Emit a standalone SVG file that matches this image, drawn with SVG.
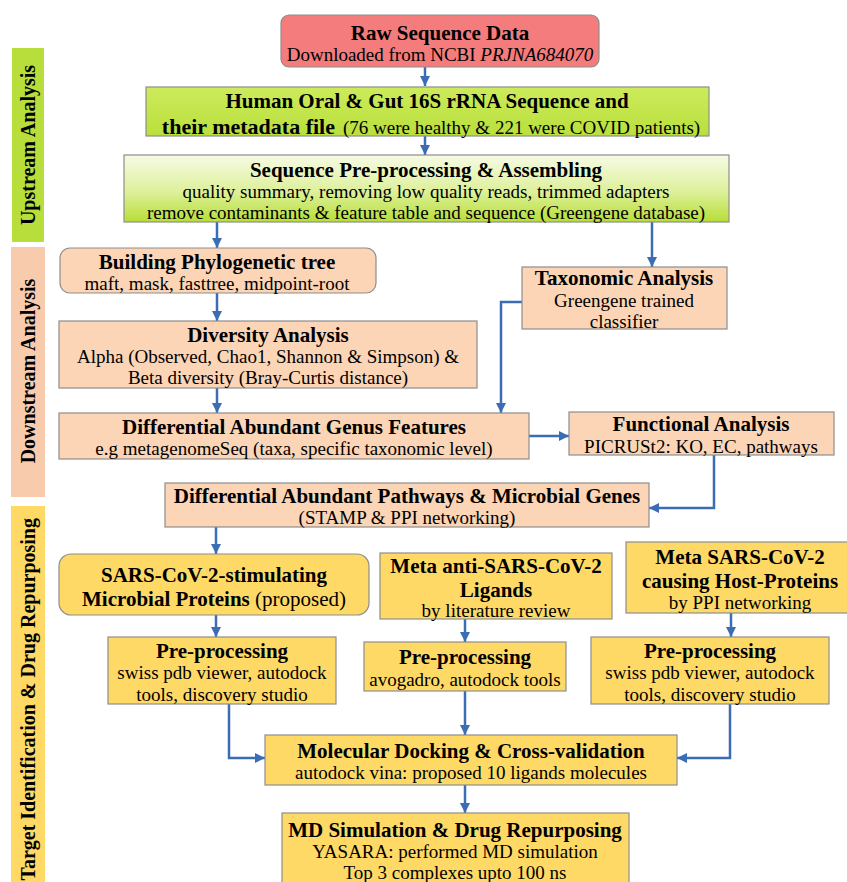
<svg xmlns="http://www.w3.org/2000/svg" width="847" height="882" viewBox="0 0 847 882">
<defs>
<linearGradient id="gHuman" x1="0" y1="0" x2="0" y2="1"><stop offset="0" stop-color="#CDEB5C"/><stop offset="1" stop-color="#B9DF3C"/></linearGradient>
<linearGradient id="gSeq" x1="0" y1="0" x2="0" y2="1"><stop offset="0" stop-color="#F6FBE4"/><stop offset="0.55" stop-color="#DDF09A"/><stop offset="1" stop-color="#B7DE36"/></linearGradient>
<marker id="arr" markerUnits="userSpaceOnUse" markerWidth="11" markerHeight="10" refX="10" refY="5" orient="auto"><path d="M0,0 L10,5 L0,10 z" fill="#3A6DB4"/></marker>
<style>
.box{stroke:#8E8E8E;stroke-width:1.2}
.red{fill:#F47C7C}
.peach{fill:#FBD5B5}
.yel{fill:#FFD966}
.t{font-family:"Liberation Serif","Times New Roman",serif;font-weight:bold;font-size:21px;text-anchor:middle;fill:#000}
.s{font-family:"Liberation Serif","Times New Roman",serif;font-size:19px;text-anchor:middle;fill:#000}
.side{font-family:"Liberation Serif","Times New Roman",serif;font-weight:bold;font-size:20px;fill:#000}
.c{fill:none;stroke:#3A6DB4;stroke-width:2.5;marker-end:url(#arr)}
</style>
</defs>
<rect width="847" height="882" fill="#FFFFFF"/>

<g id="bar-upstream">
<rect x="12" y="48" width="32" height="194" fill="#B8DE3C"/>
<text class="side" transform="translate(35,145) rotate(-90)" text-anchor="middle">Upstream Analysis</text>
</g>
<g id="bar-downstream">
<rect x="11" y="247" width="34" height="250" fill="#F9CBAD"/>
<text class="side" transform="translate(35,371) rotate(-90)" text-anchor="middle">Downstream Analysis</text>
</g>
<g id="bar-target">
<rect x="11" y="506" width="34" height="376" fill="#FFD966"/>
<text class="side" transform="translate(35,518) rotate(-90)" text-anchor="end">Target Identification &amp; Drug Repurposing</text>
</g>

<g id="connectors">
<path class="c" d="M425,67 V86"/>
<path class="c" d="M425,136 V155"/>
<path class="c" d="M217,222 V248"/>
<path class="c" d="M652,222 V267"/>
<path class="c" d="M217,293 V321"/>
<path class="c" d="M217,388 V413"/>
<path class="c" d="M522,302 H501 V413"/>
<path class="c" d="M529,436 H569"/>
<path class="c" d="M714,455 V508 H649"/>
<path class="c" d="M216,527 V554"/>
<path class="c" d="M216,615 V637"/>
<path class="c" d="M465,619 V642"/>
<path class="c" d="M731,613 V637"/>
<path class="c" d="M229,704 V758 H265"/>
<path class="c" d="M465,691 V735"/>
<path class="c" d="M730,704 V758 H677"/>
<path class="c" d="M465,785 V813"/>
</g>

<g id="raw">
<rect class="box red" x="281" y="15" width="318" height="52" rx="8"/>
<text class="t" x="440" y="40">Raw Sequence Data</text>
<text class="s" x="440" y="61">Downloaded from NCBI <tspan font-style="italic">PRJNA684070</tspan></text>
</g>
<g id="human">
<rect class="box" x="146" y="87" width="563" height="49" fill="url(#gHuman)"/>
<text class="t" x="427" y="108">Human Oral &amp; Gut 16S rRNA Sequence and</text>
<text class="s" x="431" y="134"><tspan font-weight="bold" font-size="22">their metadata file</tspan><tspan dx="8">(76 were healthy &amp; 221 were COVID patients)</tspan></text>
</g>
<g id="seqpre">
<rect class="box" x="124" y="155" width="605" height="67" fill="url(#gSeq)"/>
<text class="t" x="426" y="177">Sequence Pre-processing &amp; Assembling</text>
<text class="s" x="426" y="198">quality summary, removing low quality reads, trimmed adapters</text>
<text class="s" x="426" y="219">remove contaminants &amp; feature table and sequence (Greengene database)</text>
</g>
<g id="phylo">
<rect class="box peach" x="60" y="248" width="316" height="45" rx="10"/>
<text class="t" x="217" y="269">Building Phylogenetic tree</text>
<text class="s" x="217" y="290">maft, mask, fasttree, midpoint-root</text>
</g>
<g id="taxo">
<rect class="box peach" x="522" y="267" width="205" height="62"/>
<text class="t" x="624" y="285">Taxonomic Analysis</text>
<text class="s" x="624" y="307">Greengene trained</text>
<text class="s" x="624" y="328">classifier</text>
</g>
<g id="diversity">
<rect class="box peach" x="59" y="321" width="418" height="67"/>
<text class="t" x="268" y="342">Diversity Analysis</text>
<text class="s" x="268" y="363">Alpha (Observed, Chao1, Shannon &amp; Simpson) &amp;</text>
<text class="s" x="268" y="384">Beta diversity (Bray-Curtis distance)</text>
</g>
<g id="genus">
<rect class="box peach" x="59" y="413" width="470" height="46"/>
<text class="t" x="294" y="434">Differential Abundant Genus Features</text>
<text class="s" x="294" y="455">e.g metagenomeSeq (taxa, specific taxonomic level)</text>
</g>
<g id="functional">
<rect class="box peach" x="569" y="412" width="265" height="43"/>
<text class="t" x="701" y="431">Functional Analysis</text>
<text class="s" x="701" y="453">PICRUSt2: KO, EC, pathways</text>
</g>
<g id="pathways">
<rect class="box peach" x="165" y="483" width="484" height="44"/>
<text class="t" x="407" y="503">Differential Abundant Pathways &amp; Microbial Genes</text>
<text class="s" x="407" y="524">(STAMP &amp; PPI networking)</text>
</g>
<g id="sars-stim">
<rect class="box yel" x="59" y="554" width="310" height="61" rx="12"/>
<text class="t" x="214" y="582">SARS-CoV-2-stimulating</text>
<text class="t" x="214" y="606">Microbial Proteins <tspan font-weight="normal">(proposed)</tspan></text>
</g>
<g id="meta-anti">
<rect class="box yel" x="380" y="553" width="232" height="66"/>
<text class="t" x="496" y="573">Meta anti-SARS-CoV-2</text>
<text class="t" x="496" y="597">Ligands</text>
<text class="s" x="496" y="617">by literature review</text>
</g>
<g id="meta-host">
<rect class="box yel" x="626" y="542" width="223" height="71"/>
<text class="t" x="740" y="564">Meta SARS-CoV-2</text>
<text class="t" x="740" y="588">causing Host-Proteins</text>
<text class="s" x="740" y="609">by PPI networking</text>
</g>
<g id="pre1">
<rect class="box yel" x="108" y="637" width="228" height="67"/>
<text class="t" x="222" y="658">Pre-processing</text>
<text class="s" x="222" y="679">swiss pdb viewer, autodock</text>
<text class="s" x="222" y="701">tools, discovery studio</text>
</g>
<g id="pre2">
<rect class="box yel" x="364" y="642" width="202" height="49"/>
<text class="t" x="465" y="664">Pre-processing</text>
<text class="s" x="465" y="686">avogadro, autodock tools</text>
</g>
<g id="pre3">
<rect class="box yel" x="591" y="637" width="238" height="67"/>
<text class="t" x="710" y="658">Pre-processing</text>
<text class="s" x="710" y="679">swiss pdb viewer, autodock</text>
<text class="s" x="710" y="701">tools, discovery studio</text>
</g>
<g id="docking">
<rect class="box yel" x="265" y="735" width="412" height="50"/>
<text class="t" x="471" y="758">Molecular Docking &amp; Cross-validation</text>
<text class="s" x="471" y="779">autodock vina: proposed 10 ligands molecules</text>
</g>
<g id="md">
<rect class="box yel" x="282" y="813" width="347" height="75"/>
<text class="t" x="455" y="837">MD Simulation &amp; Drug Repurposing</text>
<text class="s" x="455" y="858">YASARA: performed MD simulation</text>
<text class="s" x="455" y="879">Top 3 complexes upto 100 ns</text>
</g>
</svg>
